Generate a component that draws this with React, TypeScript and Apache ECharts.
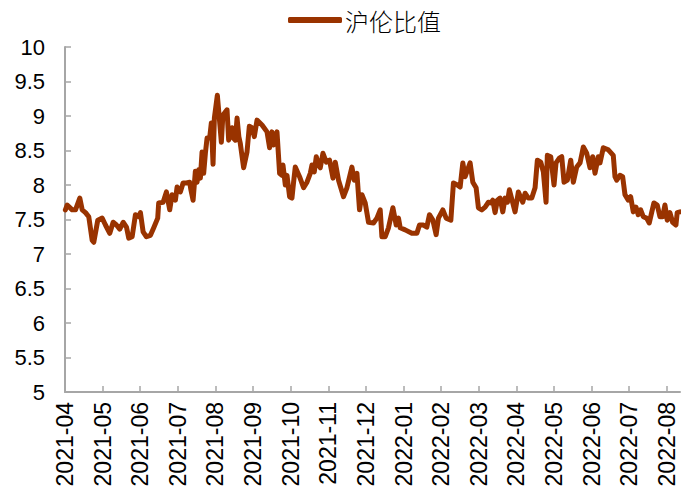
import React, { useEffect, useRef } from "react";
import * as echarts from "echarts";

// x positions in months since 2021-04 (0 = 2021-04, 16 = 2022-08)
const xMonths: number[] = [
  0.01, 0.058, 0.191, 0.279, 0.393, 0.457, 0.545, 0.632, 0.722, 0.765, 0.871, 0.988,
  1.076, 1.19, 1.28, 1.368, 1.456, 1.546, 1.634, 1.695, 1.785, 1.873, 1.96, 2.005,
  2.077, 2.165, 2.271, 2.359, 2.465, 2.491, 2.608, 2.696, 2.784, 2.847, 2.935, 2.98,
  3.068, 3.139, 3.227, 3.315, 3.347, 3.405, 3.466, 3.511, 3.554, 3.599, 3.644, 3.687,
  3.732, 3.777, 3.846, 3.891, 3.936, 3.971, 4.05, 4.112, 4.157, 4.197, 4.308, 4.351,
  4.441, 4.475, 4.529, 4.574, 4.622, 4.661, 4.749, 4.839, 4.9, 4.972, 5.033, 5.105,
  5.238, 5.371, 5.44, 5.503, 5.546, 5.636, 5.705, 5.769, 5.795, 5.857, 5.902, 5.971,
  6.034, 6.077, 6.122, 6.236, 6.343, 6.433, 6.521, 6.566, 6.627, 6.68, 6.741, 6.786,
  6.858, 6.946, 7.033, 7.124, 7.185, 7.272, 7.405, 7.495, 7.628, 7.689, 7.761, 7.83,
  7.894, 7.981, 8.069, 8.202, 8.292, 8.38, 8.425, 8.513, 8.6, 8.717, 8.805, 8.866,
  8.911, 9.044, 9.222, 9.355, 9.424, 9.53, 9.62, 9.689, 9.78, 9.867, 9.928, 10.045,
  10.133, 10.258, 10.327, 10.433, 10.505, 10.576, 10.637, 10.77, 10.842, 10.93, 10.991, 11.081,
  11.169, 11.256, 11.32, 11.373, 11.434, 11.495, 11.567, 11.639, 11.7, 11.761, 11.814, 11.904,
  11.965, 12.053, 12.17, 12.231, 12.319, 12.409, 12.497, 12.558, 12.648, 12.717, 12.789, 12.823,
  12.914, 13.001, 13.054, 13.142, 13.206, 13.267, 13.355, 13.445, 13.514, 13.604, 13.692, 13.78,
  13.87, 13.957, 14.029, 14.09, 14.178, 14.223, 14.311, 14.444, 14.576, 14.622, 14.667, 14.754,
  14.826, 14.887, 14.975, 15.038, 15.108, 15.179, 15.24, 15.304, 15.373, 15.463, 15.533, 15.596,
  15.657, 15.745, 15.817, 15.888, 15.95, 16.011, 16.082, 16.154, 16.242, 16.276, 16.348,
];

// 沪伦比值 values
const ratio: number[] = [
  7.64, 7.71, 7.64, 7.64, 7.81, 7.64, 7.6, 7.54, 7.2, 7.17, 7.49, 7.52,
  7.42, 7.3, 7.46, 7.42, 7.36, 7.46, 7.39, 7.23, 7.25, 7.57, 7.54, 7.6,
  7.32, 7.25, 7.27, 7.38, 7.52, 7.74, 7.75, 7.9, 7.64, 7.86, 7.78, 7.97,
  7.9, 8.03, 8.03, 8.04, 7.93, 7.78, 8.2, 8.04, 8.22, 8.1, 8.48, 8.17,
  8.46, 8.68, 8.68, 8.9, 8.3, 8.97, 9.3, 8.91, 8.62, 9.01, 9.09, 8.65,
  8.83, 8.68, 8.65, 8.97, 8.7, 8.6, 8.25, 8.48, 8.85, 8.83, 8.7, 8.94,
  8.87, 8.77, 8.54, 8.77, 8.58, 8.77, 8.17, 8.14, 8.29, 8.0, 8.14, 7.83,
  7.81, 8.04, 8.26, 8.12, 7.96, 8.04, 8.17, 8.29, 8.19, 8.41, 8.29, 8.25,
  8.46, 8.33, 8.36, 8.1, 8.33, 8.07, 7.83, 7.96, 8.26, 8.07, 8.17, 7.64,
  7.86, 7.74, 7.46, 7.45, 7.52, 7.64, 7.25, 7.25, 7.38, 7.67, 7.42, 7.52,
  7.38, 7.35, 7.3, 7.3, 7.42, 7.42, 7.39, 7.57, 7.49, 7.28, 7.52, 7.64,
  7.52, 7.49, 8.03, 8.0, 7.97, 8.32, 8.12, 8.32, 8.04, 7.96, 7.67, 7.64,
  7.68, 7.75, 7.74, 7.78, 7.6, 7.78, 7.81, 7.61, 7.81, 7.75, 7.93, 7.74,
  7.61, 7.9, 7.75, 7.88, 7.81, 7.81, 7.96, 8.36, 8.33, 8.19, 7.75, 8.43,
  8.41, 8.0, 8.32, 8.39, 8.41, 8.04, 8.07, 8.36, 8.04, 8.26, 8.32, 8.55,
  8.46, 8.25, 8.41, 8.17, 8.41, 8.32, 8.54, 8.51, 8.43, 8.12, 8.07, 8.14,
  8.12, 7.86, 7.78, 7.83, 7.61, 7.68, 7.57, 7.64, 7.54, 7.52, 7.45, 7.6,
  7.74, 7.71, 7.54, 7.54, 7.71, 7.49, 7.6, 7.46, 7.42, 7.6, 7.61,
];

const monthLabels: string[] = [
  "2021-04", "2021-05", "2021-06", "2021-07", "2021-08", "2021-09", "2021-10",
  "2021-11", "2021-12", "2022-01", "2022-02", "2022-03", "2022-04", "2022-05",
  "2022-06", "2022-07", "2022-08",
];

const seriesName = "沪伦比值";

export default function App() {
  const ref = useRef<HTMLDivElement>(null);
  useEffect(() => {
    if (!ref.current) return;
    const chart = echarts.init(ref.current, null, { renderer: "svg" });
    const tickValues = monthLabels.map((_, i) => i);
    chart.setOption({
      animation: false,
      backgroundColor: "#ffffff",
      legend: {
        top: 3,
        left: 283,
        icon: "roundRect",
        itemWidth: 54,
        itemHeight: 6,
        itemGap: 10,
        textStyle: {
          fontSize: 24,
          color: "#000",
          padding: [0, 0, 0, -2],
          fontFamily: "'Noto Sans CJK SC', sans-serif",
          fontWeight: 300,
        },
        data: [seriesName],
      },
      grid: { left: 65, right: 1, top: 47, bottom: 100, containLabel: false },
      xAxis: {
        type: "value",
        min: 0,
        max: 16.35,
        interval: 1,
        splitLine: { show: false },
        axisLine: { show: true, lineStyle: { color: "#a6a6a6", width: 2 } },
        axisTick: {
          show: true,
          inside: true,
          length: 6,
          customValues: tickValues,
          lineStyle: { color: "#a6a6a6", width: 1.5 },
        },
        axisLabel: {
          rotate: 90,
          margin: 10,
          fontSize: 23,
          color: "#000",
          fontFamily: "'Liberation Sans', Arial, sans-serif",
          customValues: tickValues,
          formatter: (v: number) => monthLabels[Math.round(v)] ?? "",
        },
      },
      yAxis: {
        type: "value",
        min: 5,
        max: 10,
        interval: 0.5,
        splitLine: { show: false },
        axisLine: { show: true, lineStyle: { color: "#a6a6a6", width: 2 } },
        axisTick: {
          show: true,
          inside: true,
          length: 6,
          lineStyle: { color: "#a6a6a6", width: 1.5 },
        },
        axisLabel: {
          margin: 20,
          fontSize: 22,
          color: "#000",
          fontFamily: "'Liberation Sans', Arial, sans-serif",
        },
      },
      series: [
        {
          name: seriesName,
          type: "line",
          data: xMonths.map((x, i) => [x, ratio[i]]),
          showSymbol: false,
          symbol: "none",
          itemStyle: { color: "#993300" },
          lineStyle: { color: "#993300", width: 5, join: "round", cap: "round" },
        },
      ],
    });
    return () => chart.dispose();
  }, []);
  return (
    <div
      ref={ref}
      style={{ position: "fixed", left: 0, top: 0, width: 681, height: 492 }}
    />
  );
}
